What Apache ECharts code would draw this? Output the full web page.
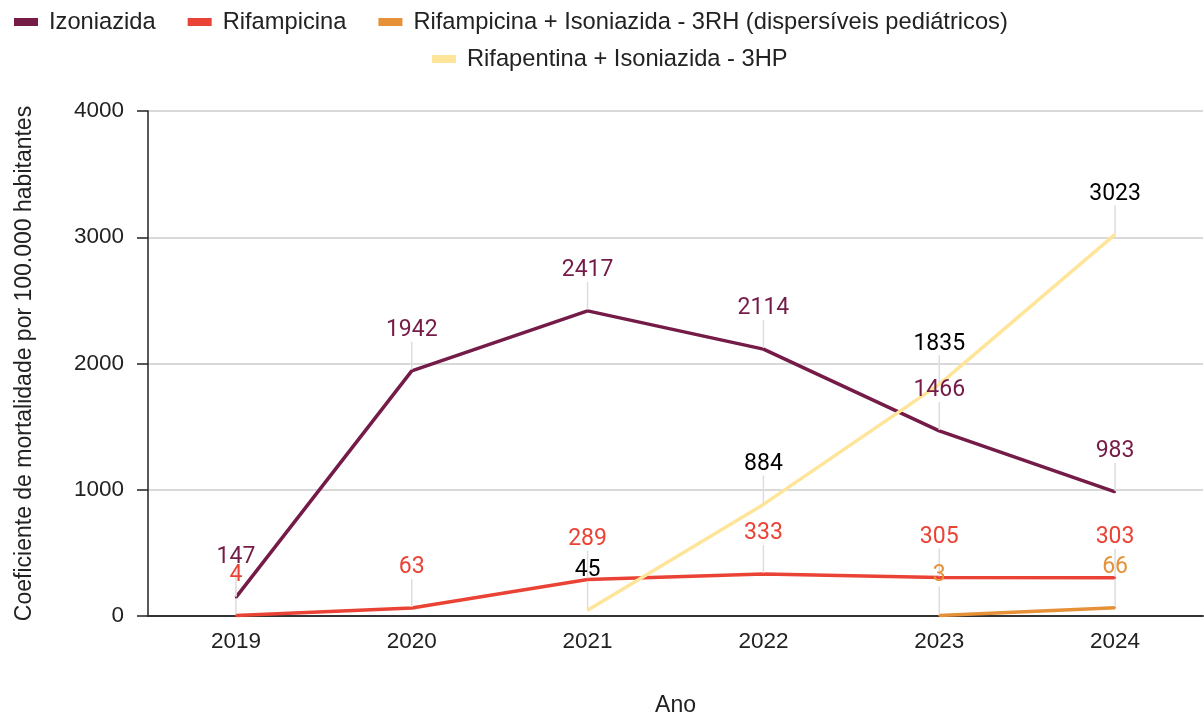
<!DOCTYPE html>
<html>
<head>
<meta charset="utf-8">
<script src="https://cdn.jsdelivr.net/npm/echarts@6/dist/echarts.min.js"></script>
<style>
    html, body { margin: 0; padding: 0; background: #fff; }
    #chart { width: 1204px; height: 717px; }
</style>
</head>
<body>
<div id="chart"></div>
<script>
// Anos e valores
const anos = ['2019', '2020', '2021', '2022', '2023', '2024'];
const izoniazida = [147, 1942, 2417, 2114, 1466, 983];
const rifampicina = [4, 63, 289, 333, 305, 303];
const rh3 = [null, null, null, null, 3, 66];
const hp3 = [null, null, 45, 884, 1835, 3023];

const nomes = [
    'Izoniazida',
    'Rifampicina',
    'Rifampicina + Isoniazida - 3RH (dispersíveis pediátricos)',
    'Rifapentina + Isoniazida - 3HP'
];
const cores = ['#741b47', '#ea4335', '#e69138', '#ffe599'];
const coresRotulo = ['#741b47', '#ea4335', '#e69138', '#000000'];

const fonte = '"Liberation Sans", Arial, sans-serif';

function makeSeries(idx, data) {
    return {
        name: nomes[idx],
        type: 'line',
        data: data,
        symbol: 'circle',
        symbolSize: 2,
        showSymbol: true,
        connectNulls: false,
        lineStyle: { width: 3.5, color: cores[idx] },
        itemStyle: { color: cores[idx] },
        label: {
            show: true,
            position: 'top',
            distance: 5,
            color: coresRotulo[idx],
            fontFamily: 'Roboto, sans-serif',
            fontSize: 23
        },
        labelLayout: { dy: -23 },
        labelLine: {
            show: true,
            lineStyle: { color: '#dddddd', width: 1.5 }
        },
        emphasis: { disabled: true }
    };
}

const chart = echarts.init(document.getElementById('chart'));
const legendaTexto = { fontFamily: fonte, fontSize: 23.7, color: '#222', padding: [0, 0, 0, 6] };
const options = {
    animation: false,
    color: cores,
    legend: [
        {
            data: nomes.slice(0, 3),
            left: 9,
            top: 5,
            itemWidth: 24,
            itemHeight: 8,
            itemGap: 32,
            icon: 'rect',
            textStyle: legendaTexto
        },
        {
            data: [nomes[3]],
            left: 427,
            top: 42,
            itemWidth: 24,
            itemHeight: 8,
            icon: 'rect',
            textStyle: legendaTexto
        }
    ],
    grid: {
        left: 148,
        right: 1,
        top: 111,
        bottom: 101,
        containLabel: false,
        outerBoundsMode: 'none'
    },
    xAxis: {
        type: 'category',
        data: anos,
        name: 'Ano',
        nameLocation: 'middle',
        nameGap: 78,
        nameTextStyle: { fontFamily: fonte, fontSize: 23, color: '#222' },
        axisLine: { lineStyle: { color: '#333', width: 2 } },
        axisTick: { show: false },
        axisLabel: { fontFamily: fonte, fontSize: 22.5, color: '#222', margin: 14 }
    },
    yAxis: {
        type: 'value',
        min: 0,
        max: 4000,
        interval: 1000,
        name: 'Coeficiente de mortalidade por 100.000 habitantes',
        nameLocation: 'middle',
        nameGap: 112,
        nameTextStyle: { fontFamily: fonte, fontSize: 23, color: '#222' },
        axisLine: { show: true, lineStyle: { color: '#222', width: 1.5 } },
        axisTick: { show: true, length: 11, lineStyle: { color: '#222', width: 1.5 } },
        axisLabel: {
            fontFamily: fonte, fontSize: 22.5, color: '#222', margin: 24,
            formatter: v => String(v)
        },
        splitLine: { lineStyle: { color: '#cccccc', width: 1.5 } }
    },
    series: [
        makeSeries(0, izoniazida),
        makeSeries(1, rifampicina),
        makeSeries(2, rh3),
        makeSeries(3, hp3)
    ]
};

chart.setOption(options);
</script>
</body>
</html>
